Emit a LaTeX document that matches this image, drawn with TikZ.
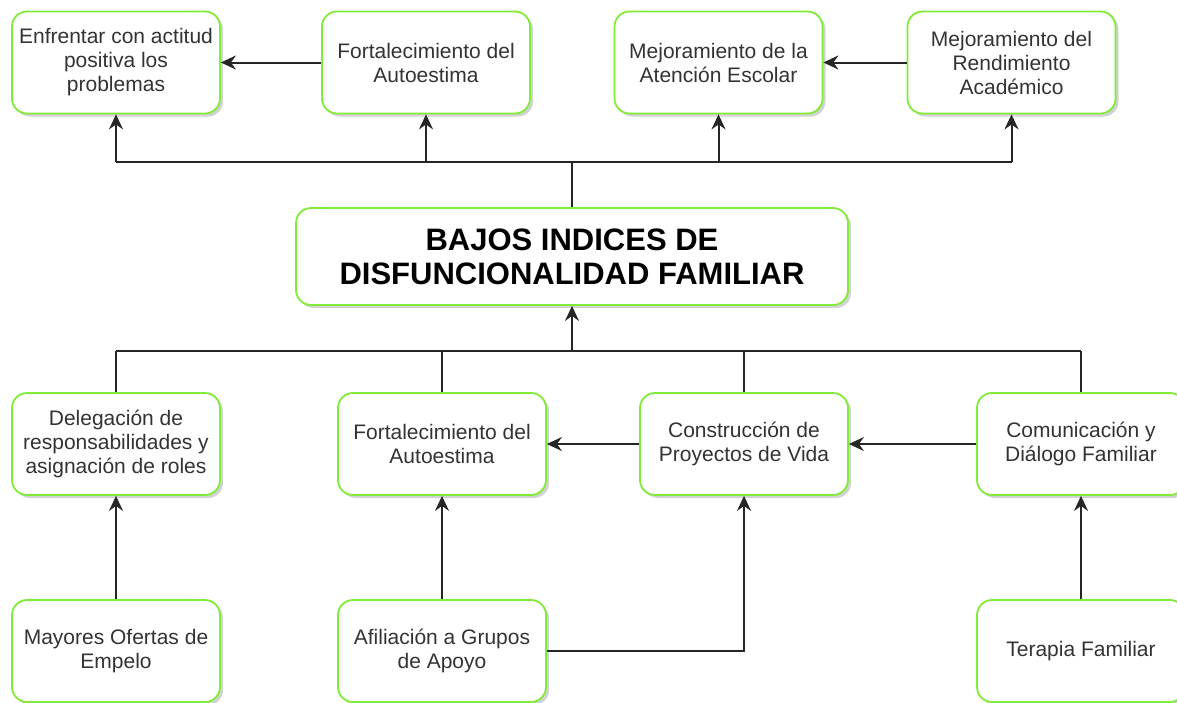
\documentclass[tikz,border=0pt]{standalone}
\usepackage{fontspec}
\setmainfont{Liberation Sans}
\usetikzlibrary{arrows.meta, shadows}
\definecolor{boxgreen}{RGB}{128,236,56}
\definecolor{textgray}{RGB}{51,51,51}

\begin{document}
\begin{tikzpicture}
        [
          x=1pt, y=-1pt,
          box/.style={draw=boxgreen, line width=1.8pt, fill=white,
            rounded corners=15pt, minimum width=208pt, minimum height=102pt,
            align=center, text=textgray, inner sep=2pt,
            font=\fontsize{21}{24}\selectfont,
            drop shadow={shadow xshift=3pt, shadow yshift=-3pt, fill=black!35}},
          headbox/.style={box, minimum width=552pt, minimum height=97pt,
            text=black, font=\fontsize{31}{34}\selectfont\bfseries},
          wire/.style={line width=2pt, draw=black!85},
          link/.style={wire, -{Stealth[length=15pt,width=14pt,inset=5pt]}}
        ]
        \clip (0,0) rectangle (1177,702);
        % effects
        \node [box] (enfrentar) at (116,62.5) {Enfrentar con actitud\\positiva los\\problemas};
        \node [box] (autoestimaA) at (426,62.5) {Fortalecimiento del\\Autoestima};
        \node [box] (atencion) at (718.5,62.5) {Mejoramiento de la\\Atención Escolar};
        \node [box] (rendimiento) at (1011.5,62.5) {Mejoramiento del\\Rendimiento\\Académico};
        % main problem
        \node [headbox] (bajos) at (572,256.5) {BAJOS INDICES DE\\DISFUNCIONALIDAD FAMILIAR};
        % causes
        \node [box] (delegacion) at (116,444) {Delegación de\\responsabilidades y\\asignación de roles};
        \node [box] (autoestimaB) at (442,444) {Fortalecimiento del\\Autoestima};
        \node [box] (proyectos) at (744,444) {Construcción de\\Proyectos de Vida};
        \node [box] (dialogo) at (1081,444) {Comunicación y\\Diálogo Familiar};
        % roots
        \node [box] (ofertas) at (116,651) {Mayores Ofertas de\\Empelo};
        \node [box] (grupos) at (442,651) {Afiliación a Grupos\\de Apoyo};
        \node [box] (terapia) at (1081,651) {Terapia Familiar};
        % junctions
        \coordinate (topbus) at (572,162);
        \coordinate (lowbus) at (572,351);
        \coordinate (turn) at (744,651);
        % upper tree
        \draw [wire] (bajos.north) -- (topbus);
        \draw [wire] (enfrentar.south |- topbus) -- (rendimiento.south |- topbus);
        \foreach \n in {enfrentar,autoestimaA,atencion,rendimiento} {
            \draw [link] (\n.south |- topbus) -- (\n.south);
        }
        \draw [link] (autoestimaA.west) -- (enfrentar.east);
        \draw [link] (rendimiento.west) -- (atencion.east);
        % lower tree
        \draw [wire] (delegacion.north |- lowbus) -- (dialogo.north |- lowbus);
        \foreach \n in {delegacion,autoestimaB,proyectos,dialogo} {
            \draw [wire] (\n.north |- lowbus) -- (\n.north);
        }
        \draw [link] (lowbus) -- (bajos.south);
        \draw [link] (proyectos.west) -- (autoestimaB.east);
        \draw [link] (dialogo.west) -- (proyectos.east);
        % root edges
        \draw [link] (ofertas.north) -- (delegacion.south);
        \draw [link] (grupos.north) -- (autoestimaB.south);
        \draw [link] (terapia.north) -- (dialogo.south);
        \draw [link] (grupos.east) -- (turn) -- (proyectos.south);
\end{tikzpicture}
\end{document}
